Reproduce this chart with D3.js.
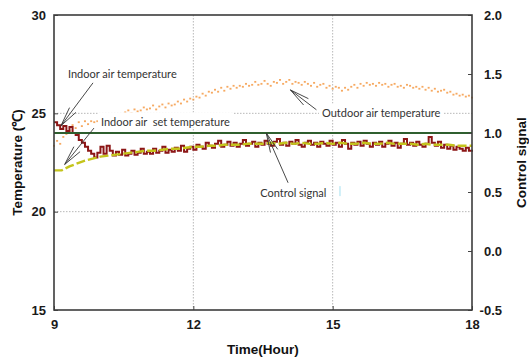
<!DOCTYPE html>
<html>
<head>
<meta charset="utf-8">
<script src="https://cdn.jsdelivr.net/npm/d3@7"></script>
<style>
  html, body { margin: 0; padding: 0; background: #fff; }
  svg { display: block; }
  .tick text { font-family: "Liberation Sans", Arial, sans-serif; font-weight: bold; font-size: 13px; fill: #1a1a1a; }
  .axis-title { font-family: "Liberation Sans", Arial, sans-serif; font-weight: bold; font-size: 13.5px; fill: #111; }
  .note { font-family: Lato, "Open Sans", sans-serif; font-size: 11px; fill: #333; white-space: pre; }
</style>
</head>
<body>
<svg id="chart" width="529" height="361"></svg>
<script>
// ---- data -------------------------------------------------------------
const hourTicks = [9, 12, 15, 18];
const tempTicks = [15, 20, 25, 30];
const signalTicks = [-0.5, 0, 0.5, 1.0, 1.5, 2.0];

// indoor air temperature, one sample every 4 minutes from 9:00 to 18:00
const sampleMinutes = 4;
const indoorTemp = [
  24.55, 24.4, 24.2, 24.35, 24.1, 24.3, 24.0, 23.9, 23.65, 23.5, 23.3, 23.1, 22.95, 22.75, 23.0,
  23.3, 22.95, 23.35, 23.1, 22.85, 23.05, 22.9, 23.15, 22.85, 22.95, 23.1, 22.9, 23.0, 23.2, 22.95,
  23.05, 22.95, 23.2, 23.0, 23.1, 23.3, 23.0, 23.15, 23.05, 23.25, 23.1, 23.35, 23.05, 23.2, 23.3,
  23.15, 23.4, 23.3, 23.2, 23.5, 23.35, 23.25, 23.45, 23.6, 23.3, 23.4, 23.55, 23.35, 23.5, 23.3,
  23.45, 23.65, 23.35, 23.45, 23.55, 23.3, 23.5, 23.4, 23.6, 23.45, 23.35, 23.55, 23.7, 23.4, 23.5,
  23.35, 23.55, 23.45, 23.65, 23.4, 23.3, 23.5, 23.6, 23.4, 23.5, 23.3, 23.55, 23.45, 23.35, 23.6,
  23.4, 23.5, 23.3, 23.65, 23.45, 23.2, 23.5, 23.4, 23.55, 23.35, 23.6, 23.45, 23.3, 23.5, 23.4,
  23.55, 23.3, 23.45, 23.6, 23.35, 23.5, 23.25, 23.45, 23.7, 23.4, 23.5, 23.35, 23.55, 23.4, 23.3,
  23.45, 23.8, 23.5, 23.35, 23.55, 23.25, 23.4, 23.2, 23.35, 23.15, 23.3, 23.2, 23.1, 23.25, 23.1,
  23.15
];

// outdoor air temperature, same 4-minute sampling
const outdoorTemp = [
  23.35, 23.6, 23.45, 23.8, 23.95, 24.1, 24.4, 24.25, 24.55, 24.35, 24.6, 24.45, 24.6, 24.55, 24.6,
  24.6, 24.7, 24.75, 24.65, 24.8, 24.75, 24.8, 24.85, 25.05, 25.15, 25.0, 25.2, 25.1, 25.15, 25.3,
  25.2, 25.25, 25.4, 25.2, 25.35, 25.45, 25.3, 25.5, 25.4, 25.45, 25.6, 25.5, 25.7, 25.6, 25.75,
  25.7, 25.85, 25.8, 26.0, 25.9, 26.1, 26.05, 26.2, 26.1, 26.3, 26.15, 26.35, 26.25, 26.4, 26.3,
  26.4, 26.35, 26.5, 26.4, 26.45, 26.6, 26.45, 26.5, 26.65, 26.5, 26.4, 26.6, 26.55, 26.7, 26.5,
  26.6, 26.7, 26.5, 26.6, 26.55, 26.45, 26.6, 26.5, 26.4, 26.55, 26.35, 26.45, 26.5, 26.3, 26.4,
  26.25, 26.35, 26.3, 26.15, 26.3, 26.2, 26.35, 26.45, 26.3, 26.5, 26.4, 26.55, 26.45, 26.5, 26.4,
  26.55, 26.45, 26.5, 26.35, 26.45, 26.5, 26.35, 26.4, 26.3, 26.45, 26.4, 26.3, 26.35, 26.25, 26.35,
  26.2, 26.3, 26.15, 26.25, 26.1, 26.15, 26.2, 26.05, 26.1, 25.95, 26.0, 25.9, 25.95, 25.85, 25.9,
  25.8
];

// indoor air set temperature, one value every 10 minutes
const setMinutes = 10;
const setTemp = [
  22.1, 22.1, 22.3, 22.45, 22.6, 22.7,
  22.8, 22.85, 22.9, 22.95, 23.0, 23.05,
  23.1, 23.1, 23.15, 23.2, 23.2, 23.25,
  23.3, 23.3, 23.35, 23.35, 23.4, 23.4,
  23.4, 23.45, 23.45, 23.45, 23.5, 23.45,
  23.5, 23.45, 23.5, 23.45, 23.45, 23.5,
  23.45, 23.5, 23.45, 23.45, 23.5, 23.45,
  23.45, 23.5, 23.45, 23.45, 23.45, 23.4,
  23.45, 23.4, 23.4, 23.4, 23.35, 23.35,
  23.35
];

// control signal, hourly
const controlHours = [9, 10, 11, 12, 13, 14, 15, 16, 17, 18];
const controlSignal = [1.0, 1.0, 1.0, 1.0, 1.0, 1.0, 1.0, 1.0, 1.0, 1.0];

// annotation texts, anchored at (hour, °C)
const noteTexts = ["Indoor air temperature", "Indoor air  set temperature", "Outdoor air temperature", "Control signal"];
const noteHours = [9.30, 10.01, 14.77, 13.44];
const noteTemps = [26.80, 24.36, 24.81, 20.75];

// annotation arrows: tail (hour, °C) -> tip (hour, °C)
const arrowTailHours = [9.84, 9.86, 14.65, 14.04];
const arrowTailTemps = [26.55, 24.25, 25.18, 21.47];
const arrowTipHours  = [9.15, 9.23, 14.09, 13.57];
const arrowTipTemps  = [24.37, 22.40, 26.19, 24.0];

// ---- layout -----------------------------------------------------------
const W = 529, H = 361;
const margin = { top: 15, right: 57, bottom: 51, left: 54 };
const iw = W - margin.left - margin.right;
const ih = H - margin.top - margin.bottom;

const svg = d3.select("#chart");
const g = svg.append("g").attr("transform", `translate(${margin.left},${margin.top})`);

const x = d3.scaleLinear().domain([9, 18]).range([0, iw]);
const yT = d3.scaleLinear().domain([15, 30]).range([ih, 0]);
const yC = d3.scaleLinear().domain([-0.5, 2.0]).range([ih, 0]);

// ---- grid -------------------------------------------------------------
const grid = g.append("g").attr("stroke", "#b8b8b8").attr("stroke-width", 1).attr("stroke-dasharray", "1.5,1.5");
grid.selectAll("line.v").data(hourTicks.filter(h => h > 9 && h < 18)).join("line")
  .attr("x1", d => x(d)).attr("x2", d => x(d)).attr("y1", 0).attr("y2", ih);
grid.selectAll("line.h").data(tempTicks.filter(t => t > 15 && t < 30)).join("line")
  .attr("x1", 0).attr("x2", iw).attr("y1", d => yT(d)).attr("y2", d => yT(d));

// ---- series -----------------------------------------------------------
const byTime = (arr, step) => arr.map((v, i) => ({ t: 9 + i * step / 60, v }));

// outdoor air temperature as small dots
g.append("g").attr("fill", "#f59a45").attr("fill-opacity", 0.85)
  .selectAll("rect").data(byTime(outdoorTemp, sampleMinutes)).join("rect")
  .attr("x", d => x(d.t) - 1).attr("y", d => yT(d.v) - 0.9)
  .attr("width", 2).attr("height", 1.8);

// indoor temperature, stepped dark red
g.append("path").datum(byTime(indoorTemp, sampleMinutes))
  .attr("fill", "none").attr("stroke", "#8c1616").attr("stroke-width", 2)
  .attr("d", d3.line().x(d => x(d.t)).y(d => yT(d.v)).curve(d3.curveStepAfter));

// set temperature, dashed yellow-green
g.append("path").datum(byTime(setTemp, setMinutes))
  .attr("fill", "none").attr("stroke", "#c4c41c").attr("stroke-width", 2.4)
  .attr("stroke-dasharray", "9,3")
  .attr("d", d3.line().x(d => x(d.t)).y(d => yT(d.v)));

// control signal on the right axis
g.append("path").datum(controlHours.map((h, i) => ({ t: h, v: controlSignal[i] })))
  .attr("fill", "none").attr("stroke", "#2f5f2f").attr("stroke-width", 2)
  .attr("d", d3.line().x(d => x(d.t)).y(d => yC(d.v)));

// ---- annotations ------------------------------------------------------
const notes = g.append("g");
noteTexts.forEach((txt, i) => {
  const ng = notes.append("g");
  const t = ng.append("text").attr("class", "note")
    .attr("x", x(noteHours[i])).attr("y", yT(noteTemps[i])).text(txt);
  const b = t.node().getBBox();
  ng.insert("rect", "text").attr("fill", "#fff")
    .attr("x", b.x - 3).attr("y", b.y - 2.5).attr("width", b.width + 6).attr("height", b.height + 2);
});

const arrows = g.append("g").attr("stroke", "#333").attr("stroke-width", 0.9).attr("fill", "none");
arrowTipHours.forEach((_, i) => {
  const x0 = x(arrowTailHours[i]), y0 = yT(arrowTailTemps[i]);
  const x1 = x(arrowTipHours[i]), y1 = yT(arrowTipTemps[i]);
  const ang = Math.atan2(y0 - y1, x0 - x1);
  const len = Math.min(20, 0.7 * Math.hypot(x0 - x1, y0 - y1));
  const spread = 0.2;
  const p = d3.path();
  p.moveTo(x0, y0); p.lineTo(x1, y1);
  p.moveTo(x1 + len * Math.cos(ang - spread), y1 + len * Math.sin(ang - spread)); p.lineTo(x1, y1);
  p.lineTo(x1 + len * Math.cos(ang + spread), y1 + len * Math.sin(ang + spread));
  arrows.append("path").attr("d", p.toString());
});

// small cyan mark beside the control signal label
g.append("rect").attr("fill", "#c6ecf6")
  .attr("x", x(15.14)).attr("y", yT(21.3)).attr("width", 1.6).attr("height", 10);

// ---- axes -------------------------------------------------------------
const fmt1 = d => d.toFixed(1);

const axL = g.append("g")
  .call(d3.axisLeft(yT).tickValues(tempTicks).tickSize(-4).tickSizeOuter(0).tickPadding(8).tickFormat(d3.format("d")));
const axR = g.append("g").attr("transform", `translate(${iw},0)`)
  .call(d3.axisRight(yC).tickValues(signalTicks).tickSize(-4).tickSizeOuter(0).tickPadding(8).tickFormat(fmt1));
axR.selectAll(".tick text").attr("text-anchor", "end").attr("x", 30);
const axB = g.append("g").attr("transform", `translate(0,${ih})`)
  .call(d3.axisBottom(x).tickValues(hourTicks).tickSize(-4).tickSizeOuter(0).tickPadding(10).tickFormat(d3.format("d")));

[axL, axR, axB].forEach(a => {
  a.select(".domain").remove();
  a.selectAll(".tick line").attr("stroke", "#444").attr("stroke-width", 1);
});

// frame
g.append("rect").attr("x", 0).attr("y", 0).attr("width", iw).attr("height", ih)
  .attr("fill", "none").attr("stroke", "#3c3c3c").attr("stroke-width", 1.6);

// titles
svg.append("text").attr("class", "axis-title")
  .attr("transform", `translate(22,${margin.top + ih / 2}) rotate(-90)`)
  .attr("text-anchor", "middle").text("Temperature (℃)");
svg.append("text").attr("class", "axis-title")
  .attr("transform", `translate(526,${margin.top + ih / 2}) rotate(-90)`)
  .attr("text-anchor", "middle").text("Control signal");
svg.append("text").attr("class", "axis-title")
  .attr("x", margin.left + iw / 2).attr("y", 354)
  .attr("text-anchor", "middle").text("Time(Hour)");
</script>
</body>
</html>
